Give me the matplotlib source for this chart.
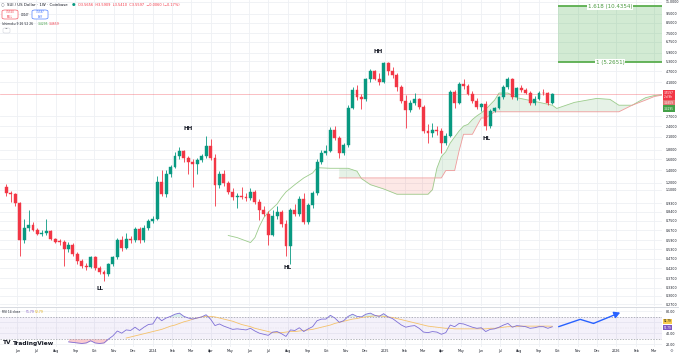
#!/usr/bin/env python3

import numpy as np
import pandas as pd
import matplotlib
matplotlib.use("Agg")
import matplotlib.pyplot as plt
import matplotlib.dates as mdates
from matplotlib.patches import Rectangle, FancyBboxPatch

# SUI / US Dollar, weekly candles (Coinbase), first week starts 2023-05-15
first_week = "2023-05-15"

opens = [1.13, 1.05, 1.04, 0.93, 0.59, 0.69, 0.71, 0.67, 0.64, 0.65,
         0.66, 0.60, 0.585, 0.58, 0.53, 0.56, 0.50, 0.46, 0.43, 0.428,
         0.48, 0.42, 0.40, 0.39, 0.44, 0.48, 0.59, 0.54, 0.60, 0.59,
         0.68, 0.59, 0.69, 0.75, 0.77, 1.21, 1.04, 1.33, 1.45, 1.67,
         1.76, 1.62, 1.55, 1.50, 1.58, 1.67, 1.87, 1.62, 1.17, 1.33,
         1.19, 1.07, 1.00, 1.02, 1.01, 0.99, 1.07, 0.945, 0.86, 0.82,
         0.63, 0.80, 0.84, 0.72, 0.55, 0.86, 0.82, 0.98, 0.74, 0.91,
         1.05, 1.55, 1.72, 1.76, 2.30, 2.07, 1.72, 1.90, 2.98, 3.75,
         3.41, 3.33, 4.25, 4.70, 4.30, 4.10, 5.20, 4.73, 4.50, 3.86,
         3.28, 2.93, 3.20, 3.36, 3.03, 2.26, 2.20, 2.30, 2.25, 1.95,
         2.12, 3.65, 3.20, 4.00, 3.92, 3.56, 3.28, 3.03, 3.15, 2.40,
         2.90, 2.98, 3.41, 3.86, 4.25, 3.41, 3.82, 3.73, 3.62, 3.18,
         3.34, 3.62, 3.58, 3.18]
highs = [1.18, 1.08, 1.06, 0.95, 0.77, 0.86, 0.74, 0.69, 0.67, 0.77,
         0.67, 0.61, 0.60, 0.59, 0.58, 0.57, 0.51, 0.47, 0.45, 0.49,
         0.49, 0.43, 0.41, 0.45, 0.49, 0.61, 0.62, 0.65, 0.62, 0.70,
         0.70, 0.71, 0.77, 0.80, 1.30, 1.40, 1.40, 1.48, 1.75, 1.85,
         1.80, 1.66, 1.60, 1.62, 1.70, 2.12, 2.05, 1.70, 1.38, 1.40,
         1.22, 1.12, 1.05, 1.13, 1.05, 1.12, 1.10, 0.98, 0.90, 0.85,
         0.86, 0.90, 0.86, 0.76, 0.88, 0.92, 1.02, 1.05, 0.93, 1.08,
         1.60, 1.78, 1.90, 2.36, 2.40, 2.12, 1.95, 3.10, 3.90, 3.95,
         3.55, 4.35, 4.85, 4.80, 4.60, 5.2651, 5.25, 4.95, 4.60, 3.95,
         3.50, 3.30, 3.60, 3.40, 3.10, 2.45, 2.50, 2.40, 2.35, 2.20,
         3.75, 3.75, 4.10, 4.30, 4.00, 3.70, 3.40, 3.20, 3.25, 2.95,
         3.05, 3.45, 3.95, 4.40, 4.35, 3.90, 3.95, 3.85, 3.70, 3.45,
         3.70, 3.80, 3.65, 3.59]
lows = [1.02, 0.95, 0.90, 0.49, 0.57, 0.66, 0.66, 0.63, 0.62, 0.63,
        0.59, 0.57, 0.56, 0.43, 0.51, 0.49, 0.44, 0.42, 0.41, 0.42,
        0.41, 0.39, 0.36, 0.38, 0.43, 0.47, 0.52, 0.53, 0.57, 0.58,
        0.57, 0.58, 0.67, 0.73, 0.76, 1.02, 1.00, 1.28, 1.43, 1.60,
        1.55, 1.33, 1.13, 1.33, 1.55, 1.62, 1.58, 0.90, 1.12, 1.15,
        1.04, 0.97, 0.88, 0.98, 0.96, 0.97, 0.92, 0.76, 0.80, 0.56,
        0.62, 0.77, 0.70, 0.49, 0.44, 0.80, 0.80, 0.72, 0.72, 0.88,
        1.03, 1.50, 1.68, 1.74, 2.02, 1.62, 1.68, 1.85, 2.95, 3.30,
        2.95, 3.25, 4.10, 4.20, 3.95, 4.05, 4.50, 4.35, 3.70, 3.20,
        2.34, 2.85, 3.10, 2.95, 2.20, 1.94, 2.10, 2.15, 1.72, 1.90,
        2.10, 3.00, 3.15, 3.80, 3.50, 3.20, 2.95, 2.90, 2.28, 2.35,
        2.85, 2.95, 3.35, 3.80, 3.35, 3.30, 3.65, 3.55, 3.10, 3.10,
        3.30, 3.50, 3.10, 3.15]
closes = [1.05, 1.04, 0.93, 0.59, 0.69, 0.71, 0.67, 0.64, 0.65, 0.66,
          0.60, 0.58, 0.58, 0.53, 0.56, 0.50, 0.46, 0.43, 0.428, 0.48,
          0.42, 0.40, 0.39, 0.44, 0.48, 0.59, 0.54, 0.60, 0.59, 0.68,
          0.59, 0.69, 0.75, 0.77, 1.21, 1.04, 1.33, 1.45, 1.67, 1.76,
          1.62, 1.55, 1.50, 1.58, 1.67, 1.87, 1.62, 1.17, 1.33, 1.19,
          1.07, 1.00, 1.02, 1.01, 0.99, 1.07, 0.945, 0.86, 0.82, 0.63,
          0.80, 0.84, 0.72, 0.55, 0.86, 0.82, 0.98, 0.74, 0.91, 1.05,
          1.55, 1.72, 1.76, 2.30, 2.07, 1.72, 1.90, 2.98, 3.75, 3.41,
          3.33, 4.25, 4.70, 4.30, 4.10, 5.20, 4.73, 4.50, 3.86, 3.28,
          2.93, 3.20, 3.36, 3.03, 2.26, 2.20, 2.30, 2.25, 1.95, 2.12,
          3.65, 3.20, 4.00, 3.92, 3.56, 3.28, 3.03, 3.15, 2.40, 2.90,
          2.98, 3.41, 3.86, 4.25, 3.41, 3.82, 3.73, 3.62, 3.18, 3.34,
          3.62, 3.58, 3.18, 3.5597]

# RSI 14 starts on candle 15, its moving average on candle 28
rsi_start = 14
rsi = [24, 23, 22, 21, 22, 26, 22, 21, 22, 29,
       35, 44, 40, 46, 45, 51, 45, 51, 56, 57,
       70, 63, 68, 71, 75, 77, 71, 68, 66, 68,
       70, 74, 66, 54, 57, 53, 50, 47, 48, 47,
       46, 49, 44, 40, 38, 36, 42, 43, 39, 34,
       46, 45, 50, 43, 48, 52, 63, 66, 66, 73,
       68, 60, 63, 71, 75, 71, 70, 75, 77, 73,
       71, 76, 70, 67, 61, 55, 51, 53, 54, 49,
       42, 41, 43, 42, 38, 41, 55, 52, 58, 57,
       54, 51, 49, 50, 43, 47, 48, 51, 55, 58,
       51, 54, 53, 52, 49, 50, 52, 52, 49, 51.79]
rsi_ma_start = 27
rsi_ma = [31, 33, 35, 37, 39, 41, 43, 45, 47, 50,
          53, 55, 58, 61, 63, 66, 68, 70, 71, 71,
          70, 68, 66, 64, 62, 59, 56, 54, 52, 49,
          47, 45, 43, 41, 41, 41, 42, 43, 43, 44,
          45, 46, 47, 49, 51, 53, 55, 58, 60, 62,
          64, 66, 67, 69, 70, 71, 72, 72, 71, 70,
          69, 67, 65, 63, 61, 59, 57, 55, 53, 52,
          51, 50, 49, 49, 48, 48, 48, 48, 48, 48,
          48, 48, 49, 49, 50, 51, 52, 52, 52, 53,
          53, 53, 53, 53, 53, 53, 52.79]

# Ichimoku leading spans (week offsets from the first candle)
cloud_weeks = [50, 52, 55, 56, 57, 58, 59, 61, 62, 63, 65, 67, 69, 70, 73,
               75, 77, 79, 80, 82, 85, 88, 95, 96, 97, 98, 99, 100, 101, 102,
               103, 104, 105, 106, 107, 108, 110, 111, 113, 115, 119, 123, 124,
               128, 133, 136, 138, 141, 144, 146, 149]
nan = float("nan")
span_a = [0.627, 0.611, 0.575, 0.611, 0.70, 0.78, 0.834, 0.923, 1.00, 1.07,
          1.17, 1.27, 1.35, 1.44, 1.43,
          1.43, 1.43, 1.38, 1.26, 1.17, 1.11, 1.04, 1.04, 1.10, 1.43, 1.65,
          1.75, 1.95, 2.10, 2.26,
          2.40, 2.45, 2.60, 2.72, 2.82, 2.95, 3.30, 3.60, 3.60, 3.40, 3.25,
          3.10, 2.98,
          3.21, 3.37, 3.33, 3.10, 3.10, 3.40, 3.49, 3.55]
span_b = [nan, nan, nan, nan, nan, nan, nan, nan, nan, nan,
          nan, nan, nan, nan, nan,
          1.27, 1.27, 1.27, 1.27, 1.27, 1.27, 1.27, 1.27, 1.27, 1.27, 1.27,
          1.39, 1.39, 1.39, 1.77,
          2.17, 2.17, 2.17, 2.40, 2.65, 2.65, 2.86, 2.86, 2.86, 2.86, 2.86,
          2.86, 2.86,
          2.86, 2.86, 2.86, 2.86, 3.10, 3.30, 3.45, 3.55]

fib_levels = [5.2651, 10.4354]
fib_labels = ["1 (5.2651)", "1.618 (10.4354)"]

swing_labels = ["LL", "HH", "HL", "HH", "HL"]
swing_weeks = [21.2, 40.9, 63.3, 83.8, 108.1]
swing_prices = [0.326, 2.32, 0.421, 5.96, 2.05]

proj_dates = ["2025-10-02", "2025-11-05", "2025-11-26", "2026-01-07"]
proj_rsi = [52, 65.5, 58, 78]

price_ticks = [11, 9.5, 8.5, 7.5, 6.75, 5.9, 5.3, 4.7, 4.1, 2.7, 2.4, 2.1,
               1.8, 1.6, 1.4, 1.2, 1.1, 0.93, 0.84, 0.75, 0.67, 0.59, 0.53,
               0.47, 0.42, 0.37, 0.33, 0.30, 0.27]
rsi_ticks = [20, 40, 60, 80]

UP = "#089981"
DOWN = "#F23645"
GRID = "#EEF0F4"
TXT = "#131722"
W, H = 679, 356


def fx(x):
    return x / W


def fy(y):
    return 1 - y / H


weeks = pd.date_range(first_week, periods=len(closes), freq="7D")
xn = mdates.date2num(weeks.to_pydatetime())
o = np.array(opens)
c = np.array(closes)
colors = np.where(c >= o, UP, DOWN)

x_left = mdates.date2num(pd.Timestamp("2023-05-05").to_pydatetime())
x_right = x_left + 1044

month_starts = pd.date_range("2023-06-01", "2026-03-01", freq="MS")
month_x = mdates.date2num(month_starts.to_pydatetime())
month_labels = [str(d.year) if d.month == 1 else d.strftime("%b") for d in month_starts]

fig = plt.figure(figsize=(W / 100, H / 100), dpi=100)
ax = fig.add_axes([0, fy(306), fx(662), 306 / H])
rax = fig.add_axes([0, fy(347), fx(662), 40 / H])

# ---- price pane ----
ax.set_yscale("log")
ax.set_xlim(x_left, x_right)
ax.set_ylim(0.264, 11.27)
ax.set_xticks(month_x)
ax.set_xticklabels([])
ax.yaxis.tick_right()
ax.set_yticks(price_ticks)
ax.set_yticklabels(["%.4f" % t for t in price_ticks])
ax.yaxis.set_minor_locator(matplotlib.ticker.NullLocator())
ax.tick_params(axis="both", length=0, labelsize=2.3, labelcolor=TXT, pad=2.5)
ax.grid(True, color=GRID, lw=0.6)
ax.set_axisbelow(True)
for s in ax.spines.values():
    s.set_visible(False)

# cloud
cx = mdates.date2num((weeks[0] + pd.to_timedelta(np.array(cloud_weeks) * 7, unit="D")).to_pydatetime())
sa = np.array(span_a)
sb = np.array(span_b)
ok = ~np.isnan(sb)
ax.fill_between(cx[ok], sa[ok], sb[ok], where=sa[ok] >= sb[ok], interpolate=True,
                color="#43A047", alpha=0.13, lw=0, zorder=1)
ax.fill_between(cx[ok], sa[ok], sb[ok], where=sa[ok] < sb[ok], interpolate=True,
                color="#F44336", alpha=0.12, lw=0, zorder=1)
ax.plot(cx, sa, color="#9CCC8C", lw=0.6, zorder=1.5)
ax.plot(cx, sb, color="#EF9A9A", lw=0.6, zorder=1.5)

# candles
ax.vlines(xn, lows, highs, colors=colors, lw=0.6, zorder=2)
ax.bar(xn, np.abs(c - o), width=4.6, bottom=np.minimum(o, c), color=colors,
       edgecolor=colors, linewidth=0.3, zorder=3)

ax.axhline(closes[-1], color=DOWN, lw=0.5, alpha=0.45, zorder=1.8)

# fib extension box
fib_x0 = xn[-1] + 9
ax.add_patch(Rectangle((fib_x0, fib_levels[0]), x_right + 20 - fib_x0,
                       fib_levels[1] - fib_levels[0], facecolor="#4CAF50",
                       alpha=0.25, lw=0, zorder=1))
ax.hlines(fib_levels, fib_x0, x_right + 20, color="#5AAE4E", lw=1.3, zorder=2)
for lvl, lab in zip(fib_levels, fib_labels):
    ax.text((fib_x0 + x_right) / 2, lvl, lab, ha="center", va="center",
            fontsize=4, color="#4C9A42", zorder=4,
            bbox=dict(facecolor="white", edgecolor="none", pad=0.6))

for lab, wk, pr in zip(swing_labels, swing_weeks, swing_prices):
    ax.text(xn[0] + wk * 7, pr, lab, ha="center", va="center",
            fontsize=4, fontweight="bold", color=TXT)

# ---- RSI pane ----
rx = xn[rsi_start:]
rv = np.array(rsi)
rax.set_xlim(x_left, x_right)
rax.set_ylim(14.5, 88.3)
rax.axhspan(30, 70, color="#7E57C2", alpha=0.08, lw=0)
rax.axhline(70, color="#9598A1", lw=0.5, ls=(0, (2, 2)))
rax.axhline(30, color="#9598A1", lw=0.5, ls=(0, (2, 2)))
rax.axhline(50, color="#9598A1", lw=0.3, ls=(0, (1, 3)), alpha=0.5)
rax.fill_between(rx, rv, 30, where=rv < 30, interpolate=True, color=DOWN, alpha=0.25, lw=0)
rax.fill_between(rx, rv, 70, where=rv > 70, interpolate=True, color=UP, alpha=0.15, lw=0)
rax.plot(xn[rsi_ma_start:], rsi_ma, color="#F5C26B", lw=0.6)
rax.plot(rx, rv, color="#7E6FD6", lw=0.6)

px = mdates.date2num(pd.to_datetime(proj_dates).to_pydatetime())
rax.plot(px[:-1], proj_rsi[:-1], color="#2962FF", lw=1.0, solid_capstyle="round")
rax.annotate("", xy=(px[-1], proj_rsi[-1]), xytext=(px[-2], proj_rsi[-2]),
             arrowprops=dict(arrowstyle="-|>,head_length=0.35,head_width=0.2",
                             color="#2962FF", lw=1.0, shrinkA=0, shrinkB=0))

rax.yaxis.tick_right()
rax.set_yticks(rsi_ticks)
# the 60 label sits under the value boxes
rax.set_yticklabels(["" if t == 60 else "%.2f" % t for t in rsi_ticks])
rax.set_xticks(month_x)
rax.set_xticklabels(month_labels)
rax.tick_params(axis="both", length=0, labelsize=2.3, labelcolor=TXT, pad=2.5)
rax.tick_params(axis="x", pad=1.6)
rax.grid(True, color=GRID, lw=0.6)
rax.set_axisbelow(True)
for s in rax.spines.values():
    s.set_visible(False)

fig.add_artist(plt.Line2D([0, 1], [fy(306.5), fy(306.5)], color="#D1D4DC", lw=0.6))

# ---- right-axis value boxes ----
fig.text(fx(664), fy(95.5), "3.5597\n2d 9h", fontsize=2.1, color="white", va="center",
         ha="left", linespacing=1.0,
         bbox=dict(facecolor=DOWN, edgecolor="none", pad=0.8))
fig.text(fx(664), fy(103.5), "3.4659", fontsize=2.1, color="white", va="center", ha="left",
         bbox=dict(facecolor="#E57373", edgecolor="none", pad=0.8))
fig.text(fx(664), fy(108.5), "3.4295", fontsize=2.1, color="white", va="center", ha="left",
         bbox=dict(facecolor="#43A047", edgecolor="none", pad=0.8))
fig.text(fx(664), fy(321.3), "52.79", fontsize=2.0, color=TXT, va="center", ha="left",
         bbox=dict(facecolor="#F7CB4D", edgecolor="none", pad=0.5))
fig.text(fx(664), fy(327.8), "51.79", fontsize=2.0, color="white", va="center", ha="left",
         bbox=dict(facecolor="#7E57C2", edgecolor="none", pad=0.5))

# ---- legend texts ----
fig.text(fx(3), fy(5), "\u25cb", fontsize=3, color="#787B86", va="center", ha="center")
fig.text(fx(7), fy(5), "SUI / US Dollar \u00b7 1W \u00b7 Coinbase", fontsize=2.8,
         color=TXT, va="center")
fig.text(fx(74), fy(5), "\u25cf", fontsize=3, color=UP, va="center", ha="center")
fig.text(fx(78), fy(5), "O3.5656  H3.5909  L3.5410  C3.5597  \u22120.0060 (\u22120.17%)",
         fontsize=2.5, color=DOWN, va="center")

fig.add_artist(FancyBboxPatch((fx(2), fy(19)), fx(16), 9 / H,
                              boxstyle="round,pad=0,rounding_size=0.004",
                              facecolor="white", edgecolor=DOWN, lw=0.4))
fig.text(fx(10), fy(14.5), "3.5550\nSELL", fontsize=1.8, color=DOWN, ha="center",
         va="center", linespacing=1.1)
fig.text(fx(25), fy(14.5), "0.0047", fontsize=1.8, color=TXT, ha="center", va="center")
fig.add_artist(FancyBboxPatch((fx(32), fy(19)), fx(16), 9 / H,
                              boxstyle="round,pad=0,rounding_size=0.004",
                              facecolor="white", edgecolor="#2962FF", lw=0.4))
fig.text(fx(40), fy(14.5), "3.5597\nBUY", fontsize=1.8, color="#2962FF", ha="center",
         va="center", linespacing=1.1)

fig.text(fx(2), fy(24), "Ichimoku 9 26 52 26", fontsize=2.2, color=TXT, va="center")
fig.text(fx(38), fy(24), "3.4295", fontsize=2.2, color="#43A047", va="center")
fig.text(fx(49), fy(24), "3.4659", fontsize=2.2, color=DOWN, va="center")
fig.add_artist(FancyBboxPatch((fx(3), fy(33)), fx(7), 5 / H,
                              boxstyle="round,pad=0,rounding_size=0.003",
                              facecolor="white", edgecolor="#D1D4DC", lw=0.4))
fig.text(fx(6.5), fy(30.3), "^", fontsize=2.4, color=TXT, ha="center", va="center")

fig.text(fx(2), fy(312), "RSI 14 close", fontsize=2.2, color=TXT, va="center")
fig.text(fx(26), fy(312), "51.79", fontsize=2.2, color="#7E57C2", va="center")
fig.text(fx(35), fy(312), "52.79", fontsize=2.2, color="#E0A800", va="center")

fig.text(fx(3), fy(343), "TV", fontsize=4.2, fontweight="bold", color=TXT, va="center")
fig.text(fx(13), fy(343), "TradingView", fontsize=4.2, fontweight="bold", color=TXT,
         va="center")
fig.text(fx(671), fy(351), "\u2699", fontsize=3, color="#787B86", ha="center", va="center")

fig.savefig("out.png", dpi=100)
